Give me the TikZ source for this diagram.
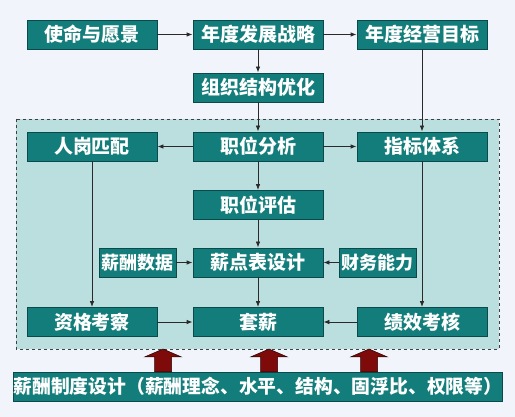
\documentclass[tikz,border=0pt]{standalone}
\usepackage{fontspec}
\setmainfont{Noto Sans CJK SC}
\usetikzlibrary{arrows.meta}
\definecolor{bgc}{HTML}{F1F5FB}
\definecolor{regionc}{HTML}{BBDEDF}
\definecolor{boxc}{HTML}{127D7A}
\definecolor{boxline}{HTML}{0A4A4A}
\definecolor{redc}{HTML}{7E0A0A}
\definecolor{linec}{HTML}{2A2A2A}
\tikzset{
  stepbox/.style={draw=boxline, line width=0.8pt, fill=boxc, text=white,
    font=\fontsize{19}{19}\selectfont\bfseries, minimum width=130pt,
    minimum height=29pt, inner sep=0pt, anchor=center},
  smallbox/.style={stepbox, minimum width=77pt, font=\fontsize{18}{18}\selectfont\bfseries},
  conn/.style={draw=linec, line width=0.8pt, -{Latex[length=6pt,width=4.5pt]}},
  bigarrow/.style={fill=redc, draw=black!70!redc, line width=0.5pt}
}
\begin{document}
\begin{tikzpicture}[x=1pt,y=-1pt]
\useasboundingbox (0,0) rectangle (515,417);
\fill[bgc] (0,0) rectangle (515,417);
\draw[fill=regionc, draw=black!75, dashed, line width=0.7pt] (16,119) rectangle (499,349);

\node[stepbox] (mission) at (92,34.5) {使命与愿景};
\node[stepbox] (strategy) at (258,34.5) {年度发展战略};
\node[stepbox] (goal) at (422,34.5) {年度经营目标};
\node[stepbox] (org) at (258,87.5) {组织结构优化};
\node[stepbox] (match) at (92,146.5) {人岗匹配};
\node[stepbox] (analysis) at (258,146.5) {职位分析};
\node[stepbox] (index) at (422,146.5) {指标体系};
\node[stepbox] (eval) at (258,205) {职位评估};
\node[smallbox] (data) at (137.5,262.5) {薪酬数据};
\node[stepbox] (points) at (258,262.5) {薪点表设计};
\node[smallbox] (finance) at (377.5,262.5) {财务能力};
\node[stepbox] (qual) at (92,322) {资格考察};
\node[stepbox] (pay) at (258,322) {套薪};
\node[stepbox] (perf) at (422,322) {绩效考核};
\node[stepbox, minimum width=488pt, font=\fontsize{18.8}{18.8}\selectfont\bfseries] (system) at (258,386.5)
  {薪酬制度设计（薪酬理念、水平、结构、固浮比、权限等）};

\draw[conn] (mission) -- (strategy);
\draw[conn] (strategy) -- (goal);
\draw[conn] (strategy) -- (org);
\draw[conn] (org) -- (analysis);
\draw[conn] (goal) -- (index);
\draw[conn] (analysis) -- (match);
\draw[conn] (analysis) -- (index);
\draw[conn] (analysis) -- (eval);
\draw[conn] (eval) -- (points);
\draw[conn] (data) -- (points);
\draw[conn] (finance) -- (points);
\draw[conn] (match.south) -- (qual.north);
\draw[conn] (index.south) -- (perf.north);
\draw[conn] (points) -- (pay);
\draw[conn] (qual) -- (pay);
\draw[conn] (perf) -- (pay);

\foreach \xx in {163,269,369} {
  \draw[bigarrow] (\xx-8.5,372) -- (\xx-8.5,357) -- (\xx-18.5,357) -- (\xx,349)
    -- (\xx+18.5,357) -- (\xx+8.5,357) -- (\xx+8.5,372) -- cycle;
}
\end{tikzpicture}
\end{document}
